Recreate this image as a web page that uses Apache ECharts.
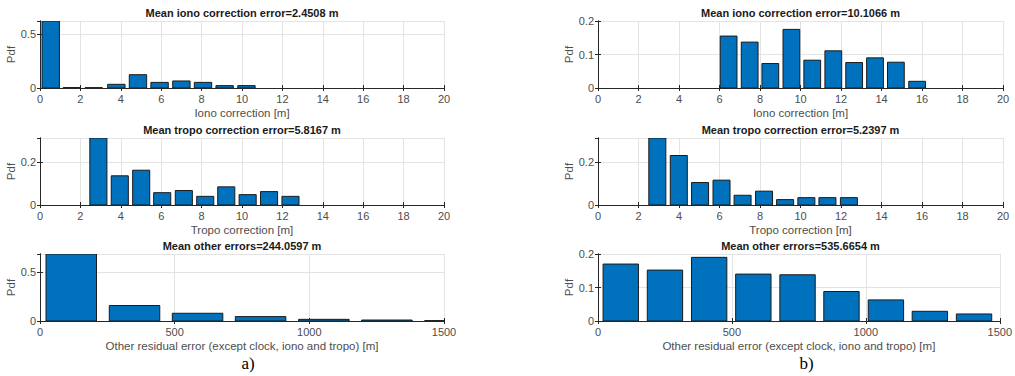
<!DOCTYPE html>
<html>
<head>
<meta charset="utf-8">
<script src="https://cdn.jsdelivr.net/npm/echarts@6/dist/echarts.min.js"></script>
<style>
html,body{margin:0;padding:0;background:#fff;}
#chart{width:1015px;height:376px;}
</style>
</head>
<body>
<div id="chart"></div>
<script>
// ---- data ----
const titles = [
  'Mean iono correction error=2.4508 m',
  'Mean iono correction error=10.1066 m',
  'Mean tropo correction error=5.8167 m',
  'Mean tropo correction error=5.2397 m',
  'Mean other errors=244.0597 m',
  'Mean other errors=535.6654 m'
];
const xNames = [
  'Iono correction [m]', 'Iono correction [m]',
  'Tropo correction [m]', 'Tropo correction [m]',
  'Other residual error (except clock, iono and tropo) [m]',
  'Other residual error (except clock, iono and tropo) [m]'
];
const panelLabels = ['a)', 'b)'];

const ionoA_centers = [0.53, 1.58, 2.66, 3.78, 4.85, 5.92, 7.00, 8.07, 9.14, 10.22];
const ionoA_pdf     = [0.62, 0.004, 0.003, 0.034, 0.123, 0.052, 0.065, 0.052, 0.022, 0.022];
const ionoA_binWidth = 1.075;

const ionoB_centers = [6.45, 7.49, 8.51, 9.55, 10.58, 11.62, 12.65, 13.68, 14.71, 15.76];
const ionoB_pdf     = [0.155, 0.137, 0.073, 0.175, 0.083, 0.111, 0.076, 0.090, 0.077, 0.020];
const ionoB_binWidth = 1.035;

const tropoA_centers = [2.89, 3.95, 5.01, 6.05, 7.12, 8.18, 9.22, 10.28, 11.34, 12.40];
const tropoA_pdf     = [0.31, 0.135, 0.161, 0.057, 0.067, 0.040, 0.084, 0.048, 0.062, 0.040];
const tropoA_binWidth = 1.057;

const tropoB_centers = [2.93, 3.99, 5.04, 6.10, 7.14, 8.20, 9.24, 10.29, 11.33, 12.39];
const tropoB_pdf     = [0.31, 0.229, 0.104, 0.115, 0.045, 0.064, 0.025, 0.034, 0.034, 0.034];
const tropoB_binWidth = 1.05;

const otherA_centers = [116, 351, 585, 819, 1054, 1288, 1522];
const otherA_pdf     = [0.685, 0.158, 0.079, 0.045, 0.017, 0.010, 0.004];
const otherA_binWidth = 234.3;

const otherB_centers = [85, 250, 415, 580, 745, 909, 1075, 1239, 1404];
const otherB_pdf     = [0.170, 0.152, 0.190, 0.140, 0.138, 0.088, 0.063, 0.029, 0.021];
const otherB_binWidth = 165;

const xTicksCorr = { min: 0, max: 20, interval: 2 };
const xTicksOther = { min: 0, max: 1500, interval: 500 };

// ---- layout ----
const panels = [
  { c: ionoA_centers,  v: ionoA_pdf,  bw: ionoA_binWidth,  x: xTicksCorr,  y: {min:0, max:0.62,  interval:0.5, hideMax:true} },
  { c: ionoB_centers,  v: ionoB_pdf,  bw: ionoB_binWidth,  x: xTicksCorr,  y: {min:0, max:0.2,   interval:0.1, hideMax:false} },
  { c: tropoA_centers, v: tropoA_pdf, bw: tropoA_binWidth, x: xTicksCorr,  y: {min:0, max:0.31,  interval:0.2, hideMax:true} },
  { c: tropoB_centers, v: tropoB_pdf, bw: tropoB_binWidth, x: xTicksCorr,  y: {min:0, max:0.31,  interval:0.2, hideMax:true} },
  { c: otherA_centers, v: otherA_pdf, bw: otherA_binWidth, x: xTicksOther, y: {min:0, max:0.685, interval:0.5, hideMax:true} },
  { c: otherB_centers, v: otherB_pdf, bw: otherB_binWidth, x: xTicksOther, y: {min:0, max:0.2,   interval:0.1, hideMax:false} }
];
const colLeft = [40, 598];
const colWidth = [404, 405];
const rowTop = [21, 138, 254];
const plotH = 67;

const FONT = '"Liberation Sans", Arial, Helvetica, sans-serif';
const AX = '#262626';
const LBL = '#4d4d4d';
const GRIDC = '#e3e3e3';
const plain = v => String(v);

const grids = [], xAxes = [], yAxes = [], series = [], graphics = [];
panels.forEach((p, i) => {
  const col = i % 2, row = Math.floor(i / 2);
  grids.push({ left: colLeft[col], top: rowTop[row], width: colWidth[col], height: plotH,
               show: false, containLabel: false });
});
panels.forEach((p, i) => {
  xAxes.push({
    type: 'value', gridIndex: i, position: 'bottom',
    min: p.x.min, max: p.x.max, interval: p.x.interval,
    name: xNames[i], nameLocation: 'middle', nameGap: 19,
    nameTextStyle: { color: LBL, fontFamily: FONT, fontSize: 11.5 },
    axisLine: { show: true, lineStyle: { color: AX, width: 1 } },
    axisTick: { show: true, inside: true, length: 3, lineStyle: { color: AX } },
    axisLabel: { color: LBL, fontFamily: FONT, fontSize: 11, margin: 5, formatter: plain },
    splitLine: { show: true, lineStyle: { color: GRIDC, width: 1 } }
  });
  yAxes.push({
    type: 'value', gridIndex: i, position: 'left',
    min: p.y.min, max: p.y.max, interval: p.y.interval,
    name: 'Pdf', nameLocation: 'middle', nameGap: 21,
    nameTextStyle: { color: LBL, fontFamily: FONT, fontSize: 11.5 },
    axisLine: { show: true, lineStyle: { color: AX, width: 1 } },
    axisTick: { show: true, inside: true, length: 3, lineStyle: { color: AX } },
    axisLabel: { color: LBL, fontFamily: FONT, fontSize: 11, margin: 4, showMaxLabel: !p.y.hideMax, formatter: plain },
    splitLine: { show: true, lineStyle: { color: GRIDC, width: 1 } }
  });
});
// box: top and right axes with inward ticks
panels.forEach((p, i) => {
  xAxes.push({
    type: 'value', gridIndex: i, position: 'top',
    min: p.x.min, max: p.x.max, interval: p.x.interval,
    axisLine: { show: true, lineStyle: { color: AX, width: 1 } },
    axisTick: { show: true, inside: true, length: 3, lineStyle: { color: AX } },
    axisLabel: { show: false }, splitLine: { show: false }
  });
  yAxes.push({
    type: 'value', gridIndex: i, position: 'right',
    min: p.y.min, max: p.y.max, interval: p.y.interval,
    axisLine: { show: true, lineStyle: { color: AX, width: 1 } },
    axisTick: { show: true, inside: true, length: 3, lineStyle: { color: AX } },
    axisLabel: { show: false }, splitLine: { show: false }
  });
});

panels.forEach((p, i) => {
  const halfW = p.bw * 0.8 / 2;
  series.push({
    type: 'custom', xAxisIndex: i, yAxisIndex: i, clip: true,
    data: p.c.map((c, k) => [c, p.v[k]]),
    renderItem: function (params, api) {
      const x = api.value(0), y = api.value(1);
      const a = api.coord([x - halfW, 0]);
      const b = api.coord([x + halfW, y]);
      const rect = echarts.graphic.clipRectByRect(
        { x: a[0], y: b[1], width: b[0] - a[0], height: a[1] - b[1] },
        { x: params.coordSys.x, y: params.coordSys.y - 1, width: params.coordSys.width, height: params.coordSys.height + 1 }
      );
      if (!rect) return;
      return {
        type: 'rect', shape: rect,
        style: { fill: '#0072BD', stroke: '#1a1a1a', lineWidth: 1 }
      };
    },
    z: 3
  });
});

// titles (above each plot) and panel labels
panels.forEach((p, i) => {
  const col = i % 2, row = Math.floor(i / 2);
  graphics.push({
    type: 'text', x: colLeft[col] + colWidth[col] / 2, y: rowTop[row] - 8.5,
    style: { text: titles[i], fill: '#1a1a1a', font: 'bold 11px ' + FONT,
             textAlign: 'center', textVerticalAlign: 'middle' }
  });
});
panelLabels.forEach((t, col) => {
  graphics.push({
    type: 'text', x: colLeft[col] + colWidth[col] / 2 + 6, y: 363,
    style: { text: t, fill: '#000', font: '17px "Liberation Serif", "Times New Roman", serif',
             textAlign: 'center', textVerticalAlign: 'middle' }
  });
});

const chart = echarts.init(document.getElementById('chart'), null, { renderer: 'svg' });
chart.setOption({
  animation: false,
  backgroundColor: '#fff',
  grid: grids, xAxis: xAxes, yAxis: yAxes, series: series, graphic: graphics
});
</script>
</body>
</html>
